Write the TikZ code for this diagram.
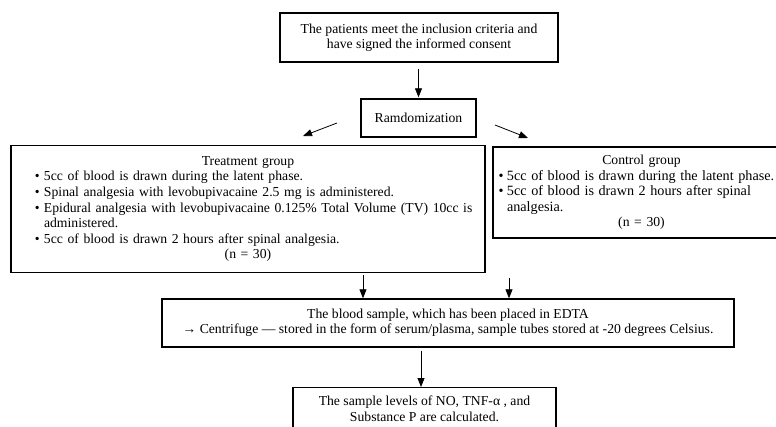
\documentclass[tikz,border=0pt]{standalone}
\usepackage{fontspec}
\setmainfont{Liberation Serif}
\usetikzlibrary{arrows.meta,calc}
\newcommand{\bulitem}[2]{\par\hangindent=#1\hangafter=1\noindent\makebox[#1][l]{•}#2}
\begin{document}
\begin{tikzpicture}[x=1pt,y=-1pt,
  font=\fontsize{13.7}{15.2}\selectfont,
  box/.style={draw, line width=1.4pt, inner sep=0pt, align=center},
  arr/.style={-{Triangle[length=9pt,width=7pt]}, line width=0.8pt}]
\useasboundingbox (0,0) rectangle (776,426);
\clip (0,0) rectangle (776,426);

\node[box, minimum width=278pt, minimum height=49pt] (top) at (419,37.5)
  {The patients meet the inclusion criteria and\\have signed the informed consent};
\node[box, minimum width=115pt, minimum height=38pt] (rand) at (418.5,118) {Ramdomization};

\node[box, minimum width=474pt, minimum height=127pt, text width=466pt, align=left,
  font=\fontsize{13.7}{15.6}\selectfont] (treat) at (248,209)
  {{\centering Treatment group\par}
   \leftskip=20pt
   \bulitem{9pt}{5cc of blood is drawn during the latent phase.}
   \bulitem{9pt}{Spinal analgesia with levobupivacaine 2.5 mg is administered.}
   \bulitem{9pt}{Epidural analgesia with levobupivacaine 0.125\% Total Volume (TV) 10cc is\newline administered.}
   \bulitem{9pt}{5cc of blood is drawn 2 hours after spinal analgesia.}\par
   {\centering (n = 30)\par}};

\node[box, minimum width=297pt, minimum height=91pt, text width=289pt, align=left,
  font=\fontsize{13.7}{15.6}\selectfont] (ctrl) at (641.5,192.5)
  {{\centering Control group\par}
   \leftskip=1.5pt
   {\fontsize{14.2}{15.6}\selectfont
   \bulitem{8.5pt}{5cc of blood is drawn during the latent phase.}
   \bulitem{8.5pt}{5cc of blood is drawn 2 hours after spinal\newline analgesia.}\par}
   {\centering (n = 30)\par}};

\node[box, minimum width=572pt, minimum height=48pt] (mid) at (448,323)
  {The blood sample, which has been placed in EDTA\\→ Centrifuge — stored in the form of serum/plasma, sample tubes stored at -20 degrees Celsius.};

\node[box, minimum width=263pt, minimum height=42pt, anchor=north] (res) at (424.5,387)
  {The sample levels of NO, TNF-α , and\\Substance P are calculated.};

\coordinate (l1) at (337,123); \coordinate (l2) at (303,136);
\coordinate (r1) at (495,125); \coordinate (r2) at (528,138);
\coordinate (x1) at (363,0); \coordinate (x2) at (509,278); \coordinate (x3) at (421,0);

\draw[arr, shorten <=6pt, shorten >=1pt] (rand.north |- top.south) -- (rand.north);
\draw[arr] (l1) -- (l2);
\draw[arr] (r1) -- (r2);
\draw[arr, shorten <=2pt] (treat.south -| x1) -- (mid.north -| x1);
\draw[arr] (x2) -- (mid.north -| x2);
\draw[arr, shorten <=3pt] (mid.south -| x3) -- (res.north -| x3);
\end{tikzpicture}
\end{document}
